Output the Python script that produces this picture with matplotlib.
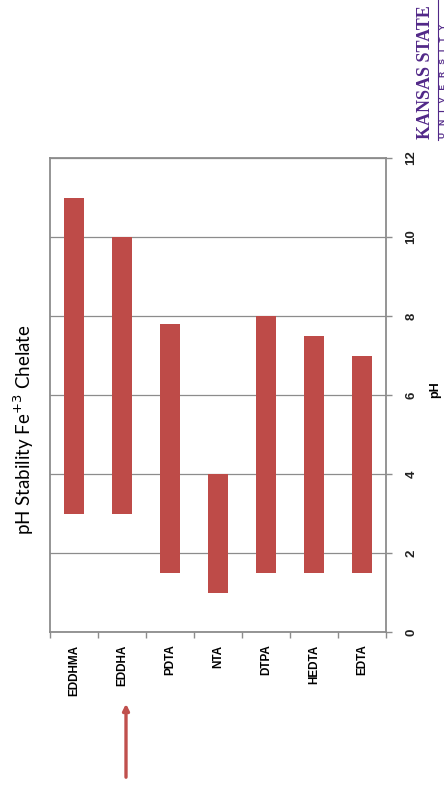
import matplotlib
matplotlib.use("Agg")
import matplotlib.pyplot as plt
from matplotlib.lines import Line2D

# ---- data ----
chelates = ["EDDHMA", "EDDHA", "PDTA", "NTA", "DTPA", "HEDTA", "EDTA"]
ph_low = [3.0, 3.0, 1.5, 1.0, 1.5, 1.5, 1.5]
ph_high = [11.0, 10.0, 7.8, 4.0, 8.0, 7.5, 7.0]
ph_ticks = [0, 2, 4, 6, 8, 10, 12]

W, H = 448, 793
fig = plt.figure(figsize=(W / 100, H / 100), dpi=100)
fig.patch.set_facecolor("white")

l, r, t, b = 50, 386, 158, 632
ax = fig.add_axes([l / W, 1 - b / H, (r - l) / W, (b - t) / H])

bar_color = "#BE4B48"
axis_gray = "#8C8C8C"
x = list(range(len(chelates)))
heights = [hi - lo for lo, hi in zip(ph_low, ph_high)]
ax.bar(x, heights, bottom=ph_low, width=0.4, color=bar_color, zorder=3)

ax.set_xlim(-0.5, len(chelates) - 0.5)
ax.set_ylim(0, 12)
ax.set_yticks(ph_ticks)
ax.yaxis.tick_right()
ax.yaxis.set_label_position("right")
ax.set_yticklabels([str(v) for v in ph_ticks], rotation=90, va="center",
                   fontsize=9.5, fontweight="bold", family="Liberation Sans", color="#222222")
ax.tick_params(axis="y", which="major", direction="out", length=4, width=1,
               color=axis_gray, pad=10)
ax.set_ylabel("pH", rotation=90, fontsize=9, fontweight="bold",
              family="Liberation Sans", va="center")
ax.yaxis.set_label_coords((435 - l) / (r - l), (b - 390) / (b - t))

ax.set_xticks(x)
ax.set_xticklabels(chelates, rotation=90, fontsize=8.5, fontweight="bold",
                   family="Liberation Sans", va="top", ha="center")
ax.tick_params(axis="x", which="major", length=0, pad=9)
ax.set_xticks([i - 0.5 for i in range(len(chelates) + 1)], minor=True)
ax.tick_params(axis="x", which="minor", direction="out", length=4, width=1,
               color=axis_gray)

ax.yaxis.grid(True, color=axis_gray, linewidth=0.9, zorder=0)
ax.xaxis.grid(False)
ax.set_axisbelow(True)
for s in ax.spines.values():
    s.set_color(axis_gray)
    s.set_linewidth(1.3)

# title (rotated slide)
fig.text(24 / W, 1 - 430 / H, r"pH Stability Fe$^{+3}$ Chelate", rotation=90,
         ha="center", va="center", fontsize=13.5, family="Lato", color="black")

# arrow pointing to EDDHA
fig.add_artist(matplotlib.patches.FancyArrowPatch(
    (126 / W, 1 - 780 / H), (126 / W, 1 - 701 / H),
    transform=fig.transFigure, arrowstyle="-|>", mutation_scale=9,
    color="#C0504D", linewidth=2.4))

# logo
purple = "#512888"
fig.text(425 / W, 1 - 139 / H, "KANSAS STATE", rotation=90, ha="center",
         va="bottom", fontsize=13, fontweight="bold", family="Liberation Serif",
         color=purple)
fig.add_artist(Line2D([437.5 / W, 437.5 / W], [1 - 140 / H, 1.0],
                      transform=fig.transFigure, color=purple, linewidth=0.8))
fig.text(443.5 / W, 1 - 138 / H, "U   N   I   V   E   R   S   I   T   Y", rotation=90,
         ha="center", va="bottom", fontsize=6, fontweight="bold",
         family="Liberation Sans", color=purple)

fig.savefig("out.png", dpi=100)
